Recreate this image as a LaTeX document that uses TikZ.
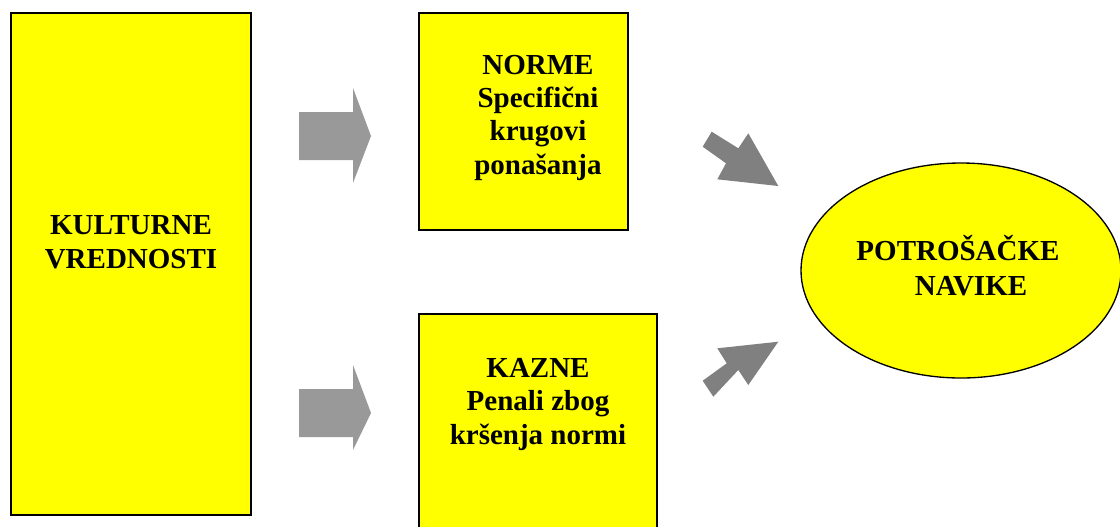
\documentclass[tikz,border=0pt]{standalone}
\usepackage{fontspec}
\setmainfont{Liberation Serif}
\usetikzlibrary{fit}
\definecolor{boxyellow}{HTML}{FFFF00}
\definecolor{lightarrow}{HTML}{999999}
\definecolor{darkarrow}{HTML}{808080}
\begin{document}
\begin{tikzpicture}[x=0.75pt,y=-0.75pt,
  box/.style={draw=black, line width=1.4pt, fill=boxyellow, inner sep=0pt},
  label/.style={align=center, font=\bfseries\fontsize{21.75}{24.9}\selectfont, inner sep=0pt, anchor=base},
  harrow/.style={fill=lightarrow},
  darrow/.style={fill=darkarrow}]
\useasboundingbox (0,0) rectangle (1120,526);

% boxes
\node[box, fit={(11,13) (251,515)}] (kult) {};
\node[box, fit={(419,13) (628,230)}] (norme) {};
\node[box, fit={(419,314) (657,545)}] (kazne) {};
\draw[fill=boxyellow, line width=1pt] (961,270.5) ellipse [x radius=160, y radius=107.5];
\coordinate (navike) at (961,270.5);

% texts (anchored at the baseline of the last line)
\node[label] (tkult) at (131,268) {KULTURNE\\VREDNOSTI};
\node[label] (tnorme) at (538,174) {NORME\\Specifični\\krugovi\\ponašanja};
\node[label] (tkazne) at (538,444) {KAZNE\\Penali zbog\\kršenja normi};
\node[label, font=\bfseries\fontsize{21.75}{26.25}\selectfont] (tnavike) at (958,295) {POTROŠAČKE\\\hspace*{19.5pt}NAVIKE};

% block arrows
\fill[harrow] (299,112) -- (353,112) -- (353,88) -- (371,136) -- (353,183) -- (353,160) -- (299,160) -- cycle;
\fill[harrow] (299,389) -- (353,389) -- (353,365) -- (371,413) -- (353,450) -- (353,437) -- (299,437) -- cycle;
\fill[darrow] (711.7,131.7) -- (738.3,148.3) -- (748.3,133.3) -- (778.3,186) -- (717.3,179.3) -- (726,163.3) -- (702.7,146.7) -- cycle;
\fill[darrow] (702.7,380.7) -- (726.7,363.3) -- (717.3,348.3) -- (778.3,341.7) -- (748.3,385) -- (738.3,370) -- (713.3,396.7) -- cycle;
\end{tikzpicture}
\end{document}
